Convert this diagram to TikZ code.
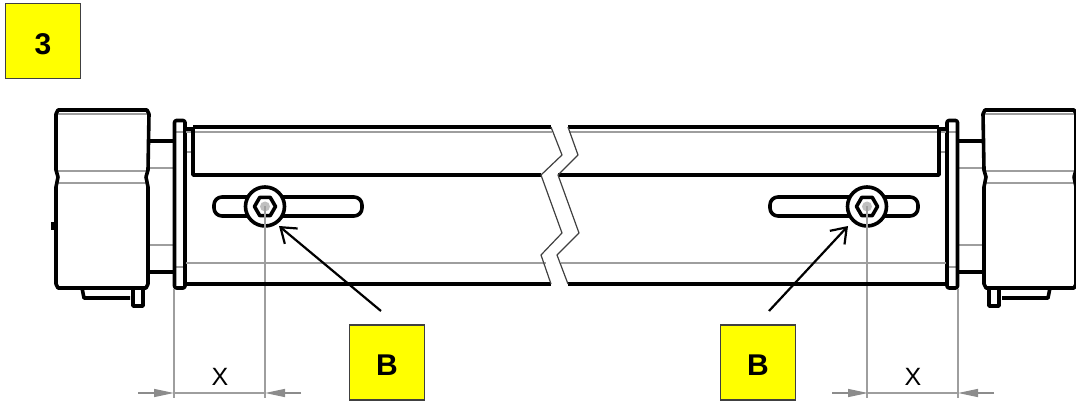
\documentclass[tikz,border=0pt]{standalone}
\usepackage{fontspec}
\setmainfont{Liberation Sans}
\usetikzlibrary{arrows.meta}
\definecolor{tagyellow}{RGB}{255,255,0}
\newcommand{\tagtext}[1]{\raisebox{-3pt}[\height][\depth]{#1}}
\tikzset{
    part/.style={black, line width=3.6pt, line join=round},
    thinpart/.style={black!75, line width=1.2pt, line join=round},
    hidden/.style={black!38, line width=1.2pt},
    tag/.style={draw=black!75, fill=tagyellow, line width=1.1pt, minimum size=75pt, inner sep=0pt, font=\bfseries\fontsize{30}{30}\selectfont},
    pointer/.style={black, line width=2.2pt, -{Straight Barb[length=14pt, width=20pt, line width=2.2pt]}},
    dimline/.style={black!45, line width=1.4pt, -{Triangle[length=20pt, width=8pt]}},
    dimtext/.style={font=\fontsize{25}{25}\selectfont, inner sep=0pt}
}
\begin{document}
\begin{tikzpicture}[x=1pt, y=-1pt]
    \useasboundingbox (0,0) rectangle (1076,403);
    % Motor, flange, slot and screw on both ends
    \foreach \sgn/\shft in {1/0, -1/1132} {
    \begin{scope}[xshift=\shft pt, xscale=\sgn]
        \draw[hidden] (56,114) -- (148,114);
        \draw[hidden] (56,171) -- (148,171);
        \draw[hidden] (56,183) -- (148,183);
        \draw[hidden] (148,168) -- (174,168);
        \draw[hidden] (148,245) -- (174,245);
        \draw[hidden] (174,132) -- (186,132);
        \draw[hidden] (174,267) -- (186,267);
        \draw[hidden] (186,152) -- (192,152);
        \draw[part] (56,114) -- (58,110) -- (147,110) -- (149,114) -- (148,170) -- (146,177) -- (148,187)
            -- (148,284) -- (146,288) -- (58,288) -- (56,284) -- (56,187) -- (58,177) -- (56,170) -- cycle;
        \draw[part] (53,222) -- (53,230);
        \draw[part] (148,141) -- (174,141);
        \draw[part] (148,272) -- (174,272);
        \draw[part] (82,288) -- (84,298) -- (130,298);
        \draw[part] (133,288) -- (133,306) -- (143,306) -- (143,288);
        \draw[part, rounded corners=2pt] (174.5,120.5) rectangle (185,288);
        \draw[part] (186,129) -- (193,129);
        % Slot with the screw on top of it
        \draw[part, rounded corners=8pt] (214,197) rectangle (362,216);
        \draw[part, fill=white] (265,206.5) circle (19.5);
        \draw[part, shift={(265,206.5)}] (0:10.5) -- (60:10.5) -- (120:10.5) -- (180:10.5) -- (240:10.5) -- (300:10.5) -- cycle;
        \fill[black!25] (265,206.5) circle (5);
        \draw[hidden] (265,206.5) -- (265,398);
        \draw[hidden] (174,289) -- (174,398);
    \end{scope}
    }
    % Tube, left part
    \draw[hidden] (186,132) -- (552,132);
    \draw[hidden] (186,263) -- (546,263);
    \draw[part] (193,127) -- (551,127);
    \draw[part] (193,127) -- (193,175) -- (541,175);
    \draw[part] (186,284) -- (551,284);
    \draw[thinpart] (551,127) -- (562,155) -- (541,175) -- (562,233) -- (541,255) -- (551,284);
    % Tube, right part
    \draw[hidden] (569,132) -- (946,132);
    \draw[hidden] (561,263) -- (946,263);
    \draw[part] (568,127) -- (939,127);
    \draw[part] (939,127) -- (939,175) -- (558,175);
    \draw[part] (568,284) -- (946,284);
    \draw[thinpart] (568,127) -- (578,155) -- (558,175) -- (579,233) -- (557,255) -- (568,284);
    % Labels
    \node[tag] (tag3) at (43,41) {\tagtext{3}};
    \node[tag] (tagL) at (387,362.5) {\tagtext{B}};
    \node[tag] (tagR) at (758,362.5) {\tagtext{B}};
    % Arrows to the screws
    \coordinate (tailL) at (381,311);
    \coordinate (tipL) at (279,226);
    \coordinate (tailR) at (769,311);
    \coordinate (tipR) at (848,226);
    \draw[pointer] (tailL) -- (tipL);
    \draw[pointer] (tailR) -- (tipR);
    % Dimensions
    \coordinate (dimLa) at (138,393);
    \coordinate (dimLb) at (174,393);
    \coordinate (dimLc) at (301,393);
    \coordinate (dimLd) at (265,393);
    \coordinate (dimRa) at (832,393);
    \coordinate (dimRb) at (868,393);
    \coordinate (dimRc) at (994,393);
    \coordinate (dimRd) at (958,393);
    \draw[dimline] (dimLa) -- (dimLb);
    \draw[dimline] (dimLc) -- (dimLd);
    \draw[dimline] (dimRa) -- (dimRb);
    \draw[dimline] (dimRc) -- (dimRd);
    \draw[hidden] (dimLb) -- (dimLd);
    \draw[hidden] (dimRb) -- (dimRd);
    \node[dimtext] (dimtextL) at (220,377) {X};
    \node[dimtext] (dimtextR) at (913,377) {X};
\end{tikzpicture}
\end{document}
